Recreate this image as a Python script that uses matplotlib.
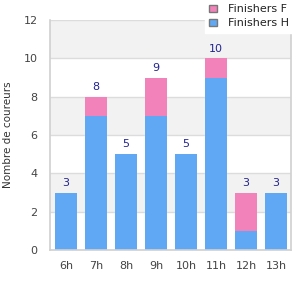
import matplotlib
matplotlib.use("Agg")
import matplotlib.pyplot as plt
from matplotlib.patches import Patch

categories = ["6h", "7h", "8h", "9h", "10h", "11h", "12h", "13h"]
finishers_h = [3, 7, 5, 7, 5, 9, 1, 3]
finishers_f = [0, 1, 0, 2, 0, 1, 2, 0]
yticks = [0, 2, 4, 6, 8, 10, 12]

blue = "#60a8f4"
pink = "#f283ba"
label_col = "#23238e"
tick_col = "#444444"

fig = plt.figure(figsize=(3, 3), dpi=100)
ax = fig.add_axes([50/300, 50/300, 241/300, 230/300])

# alternating bands
for lo in range(0, 12, 2):
    if (lo // 2) % 2 == 1:
        ax.axhspan(lo, lo + 2, color="#f2f2f2", zorder=0, lw=0)
for y in yticks[1:]:
    ax.axhline(y, color="#dcdcdc", lw=1, zorder=1)

x = range(len(categories))
ax.bar(x, finishers_h, width=0.73, color=blue, zorder=2, label="Finishers H")
ax.bar(x, finishers_f, width=0.73, bottom=finishers_h, color=pink, zorder=2, label="Finishers F")
for i, (h, f) in enumerate(zip(finishers_h, finishers_f)):
    ax.text(i, h + f + 0.25, str(h + f), ha="center", va="bottom", fontsize=8, color=label_col)

ax.set_xlim(-0.53, 7.5)
ax.set_ylim(0, 12)
ax.set_yticks(yticks)
ax.set_xticks(list(x))
ax.set_xticklabels(categories)
ax.tick_params(axis="both", length=0, labelsize=8, colors=tick_col)
ax.tick_params(axis="y", pad=9)
ax.tick_params(axis="x", pad=8)
ax.spines["top"].set_visible(False)
for s in ["left", "bottom", "right"]:
    ax.spines[s].set_color("#d0d0d0")
    ax.spines[s].set_linewidth(1.2)
ax.set_ylabel("Nombre de coureurs", fontsize=7.5, color="#333333")
ax.yaxis.set_label_coords(-0.155, 0.5)

handles = [Patch(facecolor=pink, edgecolor="#777777", label="Finishers F"),
           Patch(facecolor=blue, edgecolor="#777777", label="Finishers H")]
leg = fig.legend(handles=handles, loc="upper left", bbox_to_anchor=(205/300, 1.0),
                 fontsize=8, frameon=True, fancybox=False, handlelength=0.7,
                 handleheight=0.7, handletextpad=1.0, borderpad=0.4, labelspacing=0.35,
                 borderaxespad=0.0)
leg.get_frame().set_edgecolor("white")
leg.get_frame().set_facecolor("white")
leg.get_frame().set_alpha(1)
for t in leg.get_texts():
    t.set_color("#222222")

fig.savefig("out.png", dpi=100, facecolor="white")
